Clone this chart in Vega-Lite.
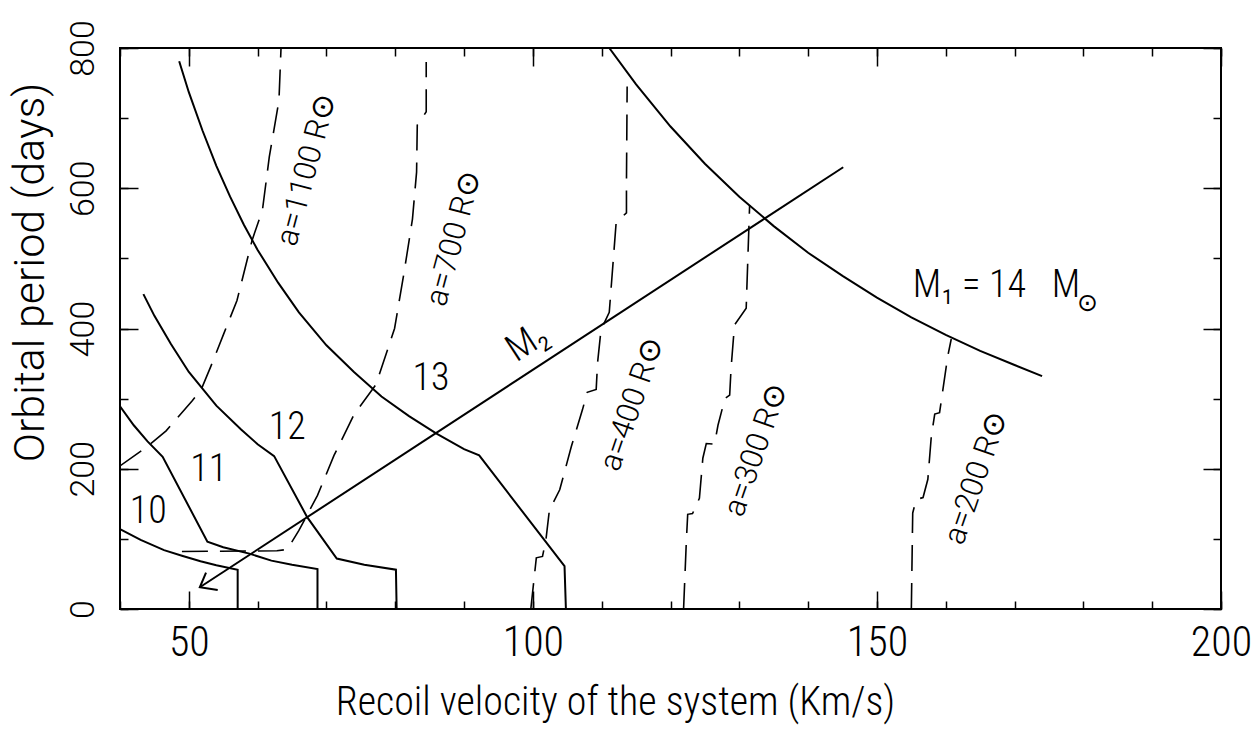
{
  "$schema": "https://vega.github.io/schema/vega-lite/v6.json",
  "width": 1101,
  "height": 561,
  "autosize": "none",
  "padding": {"left": 120, "top": 48, "right": 35, "bottom": 138},
  "background": "white",
  "config": {
    "view": {"stroke": "black", "strokeWidth": 2},
    "axis": {"grid": false, "domain": false, "tickColor": "black", "tickWidth": 1.5, "labelColor": "black", "titleColor": "black"}
  },
  "datasets": {
    "solid": [
      {"s": "14", "i": 1, "x": 111.1, "y": 800},
      {"s": "14", "i": 2, "x": 115, "y": 748},
      {"s": "14", "i": 3, "x": 120, "y": 688},
      {"s": "14", "i": 4, "x": 125, "y": 635},
      {"s": "14", "i": 5, "x": 130, "y": 588},
      {"s": "14", "i": 6, "x": 135, "y": 546},
      {"s": "14", "i": 7, "x": 140, "y": 508},
      {"s": "14", "i": 8, "x": 145, "y": 475},
      {"s": "14", "i": 9, "x": 150, "y": 444},
      {"s": "14", "i": 10, "x": 155, "y": 416},
      {"s": "14", "i": 11, "x": 160, "y": 391},
      {"s": "14", "i": 12, "x": 165, "y": 368},
      {"s": "14", "i": 13, "x": 170, "y": 348},
      {"s": "14", "i": 14, "x": 174, "y": 332},
      {"s": "13", "i": 1, "x": 48.6, "y": 781},
      {"s": "13", "i": 2, "x": 50, "y": 737},
      {"s": "13", "i": 3, "x": 52, "y": 682},
      {"s": "13", "i": 4, "x": 54, "y": 632},
      {"s": "13", "i": 5, "x": 56, "y": 588},
      {"s": "13", "i": 6, "x": 58, "y": 548},
      {"s": "13", "i": 7, "x": 60, "y": 512},
      {"s": "13", "i": 8, "x": 63, "y": 465},
      {"s": "13", "i": 9, "x": 66, "y": 423},
      {"s": "13", "i": 10, "x": 70, "y": 376},
      {"s": "13", "i": 11, "x": 74, "y": 338},
      {"s": "13", "i": 12, "x": 78, "y": 303},
      {"s": "13", "i": 13, "x": 82, "y": 275},
      {"s": "13", "i": 14, "x": 86, "y": 250},
      {"s": "13", "i": 15, "x": 90, "y": 228},
      {"s": "13", "i": 16, "x": 92.2, "y": 219},
      {"s": "13", "i": 17, "x": 104.6, "y": 61},
      {"s": "13", "i": 18, "x": 104.8, "y": 0},
      {"s": "12", "i": 1, "x": 43.4, "y": 449},
      {"s": "12", "i": 2, "x": 45, "y": 418},
      {"s": "12", "i": 3, "x": 47.4, "y": 378},
      {"s": "12", "i": 4, "x": 50, "y": 338},
      {"s": "12", "i": 5, "x": 54, "y": 290},
      {"s": "12", "i": 6, "x": 57.6, "y": 256},
      {"s": "12", "i": 7, "x": 60, "y": 235},
      {"s": "12", "i": 8, "x": 62.4, "y": 218},
      {"s": "12", "i": 9, "x": 67.2, "y": 131},
      {"s": "12", "i": 10, "x": 71.5, "y": 72},
      {"s": "12", "i": 11, "x": 75.5, "y": 63},
      {"s": "12", "i": 12, "x": 80.1, "y": 56},
      {"s": "12", "i": 13, "x": 80.2, "y": 0},
      {"s": "11", "i": 1, "x": 40.0, "y": 289},
      {"s": "11", "i": 2, "x": 42, "y": 262},
      {"s": "11", "i": 3, "x": 44, "y": 239},
      {"s": "11", "i": 4, "x": 46.2, "y": 217},
      {"s": "11", "i": 5, "x": 52.7, "y": 96},
      {"s": "11", "i": 6, "x": 55, "y": 88},
      {"s": "11", "i": 7, "x": 58.8, "y": 79},
      {"s": "11", "i": 8, "x": 62, "y": 69},
      {"s": "11", "i": 9, "x": 65, "y": 63},
      {"s": "11", "i": 10, "x": 68.7, "y": 57},
      {"s": "11", "i": 11, "x": 68.7, "y": 0},
      {"s": "10", "i": 1, "x": 40.0, "y": 114},
      {"s": "10", "i": 2, "x": 43, "y": 98.6},
      {"s": "10", "i": 3, "x": 46.4, "y": 84},
      {"s": "10", "i": 4, "x": 49, "y": 76},
      {"s": "10", "i": 5, "x": 51.7, "y": 68},
      {"s": "10", "i": 6, "x": 54, "y": 62.5},
      {"s": "10", "i": 7, "x": 57.1, "y": 56},
      {"s": "10", "i": 8, "x": 57.1, "y": 0},
      {"s": "M2", "i": 1, "x": 145.1, "y": 630},
      {"s": "M2", "i": 2, "x": 51.6, "y": 31},
      {"s": "arrow", "i": 1, "x": 52.5, "y": 52},
      {"s": "arrow", "i": 2, "x": 51.6, "y": 31},
      {"s": "arrow", "i": 3, "x": 54.2, "y": 27}
    ],
    "dashed": [
      {"a": "1100", "i": 1, "x": 40.0, "y": 204},
      {"a": "1100", "i": 2, "x": 43.9, "y": 231},
      {"a": "1100", "i": 3, "x": 46.7, "y": 254},
      {"a": "1100", "i": 4, "x": 50.5, "y": 297},
      {"a": "1100", "i": 5, "x": 51.8, "y": 313},
      {"a": "1100", "i": 6, "x": 53.2, "y": 346},
      {"a": "1100", "i": 7, "x": 55.1, "y": 393},
      {"a": "1100", "i": 8, "x": 57.0, "y": 440},
      {"a": "1100", "i": 9, "x": 59.2, "y": 526},
      {"a": "1100", "i": 10, "x": 60.7, "y": 569},
      {"a": "1100", "i": 11, "x": 61.7, "y": 645},
      {"a": "1100", "i": 12, "x": 63.1, "y": 725},
      {"a": "1100", "i": 13, "x": 63.4, "y": 800},
      {"a": "700", "i": 1, "x": 49.0, "y": 82},
      {"a": "700", "i": 2, "x": 62.8, "y": 83},
      {"a": "700", "i": 3, "x": 64.3, "y": 85},
      {"a": "700", "i": 4, "x": 66.0, "y": 112},
      {"a": "700", "i": 5, "x": 68.7, "y": 162},
      {"a": "700", "i": 6, "x": 71.1, "y": 219},
      {"a": "700", "i": 7, "x": 74.0, "y": 277},
      {"a": "700", "i": 8, "x": 77.2, "y": 320},
      {"a": "700", "i": 9, "x": 79.9, "y": 400},
      {"a": "700", "i": 10, "x": 81.3, "y": 481},
      {"a": "700", "i": 11, "x": 82.5, "y": 556},
      {"a": "700", "i": 12, "x": 83.1, "y": 623},
      {"a": "700", "i": 13, "x": 83.2, "y": 690},
      {"a": "700", "i": 14, "x": 84.5, "y": 709},
      {"a": "700", "i": 15, "x": 84.5, "y": 780},
      {"a": "400", "i": 1, "x": 99.7, "y": 0},
      {"a": "400", "i": 2, "x": 100.5, "y": 73},
      {"a": "400", "i": 3, "x": 101.4, "y": 75},
      {"a": "400", "i": 4, "x": 101.9, "y": 99},
      {"a": "400", "i": 5, "x": 102.4, "y": 141},
      {"a": "400", "i": 6, "x": 103.9, "y": 170},
      {"a": "400", "i": 7, "x": 105.6, "y": 232},
      {"a": "400", "i": 8, "x": 107.2, "y": 284},
      {"a": "400", "i": 9, "x": 107.9, "y": 309},
      {"a": "400", "i": 10, "x": 109.2, "y": 313},
      {"a": "400", "i": 11, "x": 109.4, "y": 351},
      {"a": "400", "i": 12, "x": 109.9, "y": 398},
      {"a": "400", "i": 13, "x": 111.1, "y": 423},
      {"a": "400", "i": 14, "x": 112.1, "y": 551},
      {"a": "400", "i": 15, "x": 113.6, "y": 565},
      {"a": "400", "i": 16, "x": 113.6, "y": 608},
      {"a": "400", "i": 17, "x": 113.7, "y": 745},
      {"a": "300", "i": 1, "x": 121.9, "y": 0},
      {"a": "300", "i": 2, "x": 122.3, "y": 96},
      {"a": "300", "i": 3, "x": 122.5, "y": 135},
      {"a": "300", "i": 4, "x": 123.2, "y": 136},
      {"a": "300", "i": 5, "x": 124.2, "y": 158},
      {"a": "300", "i": 6, "x": 124.7, "y": 215},
      {"a": "300", "i": 7, "x": 125.2, "y": 236},
      {"a": "300", "i": 8, "x": 126.4, "y": 235},
      {"a": "300", "i": 9, "x": 126.9, "y": 262},
      {"a": "300", "i": 10, "x": 127.9, "y": 300},
      {"a": "300", "i": 11, "x": 128.6, "y": 305},
      {"a": "300", "i": 12, "x": 128.8, "y": 343},
      {"a": "300", "i": 13, "x": 129.3, "y": 405},
      {"a": "300", "i": 14, "x": 131.0, "y": 429},
      {"a": "300", "i": 15, "x": 131.5, "y": 576},
      {"a": "200", "i": 1, "x": 155.0, "y": 0},
      {"a": "200", "i": 2, "x": 155.2, "y": 137},
      {"a": "200", "i": 3, "x": 155.7, "y": 156},
      {"a": "200", "i": 4, "x": 156.7, "y": 159},
      {"a": "200", "i": 5, "x": 157.4, "y": 185},
      {"a": "200", "i": 6, "x": 157.9, "y": 246},
      {"a": "200", "i": 7, "x": 158.4, "y": 278},
      {"a": "200", "i": 8, "x": 159.1, "y": 280},
      {"a": "200", "i": 9, "x": 160.3, "y": 361},
      {"a": "200", "i": 10, "x": 160.8, "y": 385}
    ]
  },
  "resolve": {"axis": {"x": "independent", "y": "independent"}},
  "layer": [
    {
      "data": {"name": "solid"},
      "mark": {"type": "line", "color": "black", "strokeWidth": 2, "clip": true},
      "encoding": {
        "x": {"field": "x", "type": "quantitative", "scale": {"domain": [40, 200], "nice": false, "zero": false},
          "axis": {"orient": "bottom", "values": [50, 100, 150, 200], "ticks": false, "labelFont": "Roboto Condensed, Liberation Sans, sans-serif", "labelFontWeight": 300, "labelFontSize": 42, "labelPadding": 13, "labelFlush": false,
            "title": "Recoil velocity of the system (Km/s)", "titleFont": "Roboto Condensed, Liberation Sans, sans-serif", "titleFontSize": 40, "titleFontWeight": 300,
            "titleX": 495, "titleY": 105, "titleAlign": "center", "titleBaseline": "alphabetic"}},
        "y": {"field": "y", "type": "quantitative", "scale": {"domain": [0, 800], "nice": false, "zero": false},
          "axis": {"orient": "left", "values": [0, 200, 400, 600, 800], "ticks": false, "labelFont": "Roboto, Liberation Sans, sans-serif", "labelFontWeight": 300, "labelFontSize": 34, "labelAngle": -90, "labelAlign": "center", "labelBaseline": "bottom", "labelPadding": 20, "labelFlush": false,
            "title": "Orbital period (days)", "titleFont": "Roboto, Liberation Sans, sans-serif", "titleFontSize": 43, "titleFontWeight": 300,
            "titleX": -90, "titleY": 224, "titleAngle": -90, "titleAlign": "center", "titleBaseline": "middle"}},
        "detail": {"field": "s"},
        "order": {"field": "i"}
      }
    },
    {
      "data": {"name": "dashed"},
      "mark": {"type": "line", "color": "black", "strokeWidth": 1.6, "strokeDash": [26, 12], "clip": true},
      "encoding": {
        "x": {"field": "x", "type": "quantitative", "scale": {"domain": [40, 200], "nice": false, "zero": false},
          "axis": {"orient": "bottom", "values": [50, 100, 150, 200], "tickSize": -18, "labels": false, "title": null}},
        "y": {"field": "y", "type": "quantitative", "scale": {"domain": [0, 800], "nice": false, "zero": false},
          "axis": {"orient": "left", "values": [0, 200, 400, 600, 800], "tickSize": -18, "labels": false, "title": null}},
        "detail": {"field": "a"},
        "order": {"field": "i"}
      }
    },
    {
      "data": {"values": [{"x": 40, "y": 0}]},
      "mark": {"type": "point", "opacity": 0},
      "encoding": {
        "x": {"field": "x", "type": "quantitative", "scale": {"domain": [40, 200], "nice": false, "zero": false},
          "axis": {"orient": "bottom", "values": [40, 50, 60, 70, 80, 90, 100, 110, 120, 130, 140, 150, 160, 170, 180, 190, 200], "tickSize": -8, "labels": false, "title": null}},
        "y": {"field": "y", "type": "quantitative", "scale": {"domain": [0, 800], "nice": false, "zero": false},
          "axis": {"orient": "left", "values": [0, 100, 200, 300, 400, 500, 600, 700, 800], "tickSize": -8, "labels": false, "title": null}}
      }
    },
    {
      "data": {"values": [{"x": 40, "y": 0}]},
      "mark": {"type": "point", "opacity": 0},
      "encoding": {
        "x": {"field": "x", "type": "quantitative", "scale": {"domain": [40, 200], "nice": false, "zero": false},
          "axis": {"orient": "top", "values": [50, 100, 150, 200], "tickSize": -18, "labels": false, "title": null}},
        "y": {"field": "y", "type": "quantitative", "scale": {"domain": [0, 800], "nice": false, "zero": false},
          "axis": {"orient": "right", "values": [0, 200, 400, 600, 800], "tickSize": -18, "labels": false, "title": null}}
      }
    },
    {
      "data": {"values": [{"x": 40, "y": 0}]},
      "mark": {"type": "point", "opacity": 0},
      "encoding": {
        "x": {"field": "x", "type": "quantitative", "scale": {"domain": [40, 200], "nice": false, "zero": false},
          "axis": {"orient": "top", "values": [40, 50, 60, 70, 80, 90, 100, 110, 120, 130, 140, 150, 160, 170, 180, 190, 200], "tickSize": -8, "labels": false, "title": null}},
        "y": {"field": "y", "type": "quantitative", "scale": {"domain": [0, 800], "nice": false, "zero": false},
          "axis": {"orient": "right", "values": [0, 100, 200, 300, 400, 500, 600, 700, 800], "tickSize": -8, "labels": false, "title": null}}
      }
    },
    {
      "data": {"values": [
        {"t": "10", "x": 44.1, "y": 138.5},
        {"t": "11", "x": 52.9, "y": 197.7},
        {"t": "12", "x": 64.3, "y": 258.6},
        {"t": "13", "x": 85.2, "y": 327.5}
      ]},
      "mark": {"type": "text", "font": "Roboto Condensed, Liberation Sans, sans-serif", "fontWeight": 300, "fontSize": 38, "align": "center", "baseline": "middle", "color": "black"},
      "encoding": {
        "x": {"field": "x", "type": "quantitative", "axis": null},
        "y": {"field": "y", "type": "quantitative", "axis": null},
        "text": {"field": "t"}
      }
    },
    {
      "data": {"values": [
        {"t": "M₁ = 14", "x": 155.2, "y": 445},
        {"t": "M", "x": 175.4, "y": 445}
      ]},
      "mark": {"type": "text", "font": "Roboto Condensed, Liberation Sans, sans-serif", "fontWeight": 300, "fontSize": 38, "align": "left", "baseline": "alphabetic", "color": "black"},
      "encoding": {
        "x": {"field": "x", "type": "quantitative", "axis": null},
        "y": {"field": "y", "type": "quantitative", "axis": null},
        "text": {"field": "t"}
      }
    },
    {
      "data": {"values": [{"t": "⊙", "x": 180.6, "y": 436}]},
      "mark": {"type": "text", "font": "DejaVu Sans", "fontSize": 25, "align": "center", "baseline": "middle", "color": "black"},
      "encoding": {
        "x": {"field": "x", "type": "quantitative", "axis": null},
        "y": {"field": "y", "type": "quantitative", "axis": null},
        "text": {"field": "t"}
      }
    },
    {
      "data": {"values": [{"t": "M₂", "x": 99.2, "y": 380}]},
      "mark": {"type": "text", "font": "Roboto Condensed, Liberation Sans, sans-serif", "fontWeight": 300, "fontSize": 38, "align": "center", "baseline": "middle", "angle": -33, "color": "black"},
      "encoding": {
        "x": {"field": "x", "type": "quantitative", "axis": null},
        "y": {"field": "y", "type": "quantitative", "axis": null},
        "text": {"field": "t"}
      }
    },
    {
      "data": {"values": [
        {"t": "a=1100 R⊙", "x": 67.2, "y": 626},
        {"t": "a=700 R⊙", "x": 88.6, "y": 528.5}
      ]},
      "mark": {"type": "text", "font": "Roboto, Liberation Sans, sans-serif", "fontWeight": 300, "fontSize": 31, "align": "center", "baseline": "middle", "angle": -75, "color": "black"},
      "encoding": {
        "x": {"field": "x", "type": "quantitative", "axis": null},
        "y": {"field": "y", "type": "quantitative", "axis": null},
        "text": {"field": "t"}
      }
    },
    {
      "data": {"values": [
        {"t": "a=400 R⊙", "x": 114.5, "y": 292},
        {"t": "a=300 R⊙", "x": 132.5, "y": 227},
        {"t": "a=200 R⊙", "x": 164.5, "y": 187}
      ]},
      "mark": {"type": "text", "font": "Roboto, Liberation Sans, sans-serif", "fontWeight": 300, "fontSize": 31, "align": "center", "baseline": "middle", "angle": -71, "color": "black"},
      "encoding": {
        "x": {"field": "x", "type": "quantitative", "axis": null},
        "y": {"field": "y", "type": "quantitative", "axis": null},
        "text": {"field": "t"}
      }
    }
  ]
}
